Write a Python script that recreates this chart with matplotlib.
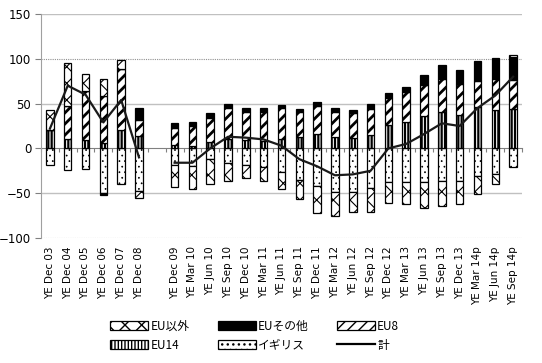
import numpy as np
import matplotlib
matplotlib.use("Agg")
import matplotlib.pyplot as plt
from matplotlib.patches import Patch
from matplotlib.lines import Line2D

plt.rcParams['font.family'] = ['DejaVu Sans', 'Noto Sans CJK JP']

# periods (a blank slot is left after YE Dec 08)
labels_a = ['YE Dec 03', 'YE Dec 04', 'YE Dec 05', 'YE Dec 06', 'YE Dec 07', 'YE Dec 08']
labels_b = ['YE Dec 09', 'YE Mar 10', 'YE Jun 10', 'YE Sep 10', 'YE Dec 10',
            'YE Mar 11', 'YE Jun 11', 'YE Sep 11', 'YE Dec 11', 'YE Mar 12',
            'YE Jun 12', 'YE Sep 12', 'YE Dec 12', 'YE Mar 13', 'YE Jun 13',
            'YE Sep 13', 'YE Dec 13', 'YE Mar 14p', 'YE Jun 14p', 'YE Sep 14p']

uk = [-19, -24, -23, -50, -40, -48,
      -18, -20, -12, -16, -18, -21, -26, -35, -42, -49, -49, -44, -37, -37,
      -37, -36, -36, -31, -29, -21]
eu14 = [20, 10, 9, 6, 21, 14,
        4, 3, 7, 11, 9, 8, 10, 13, 16, 13, 12, 15, 26, 30,
        36, 41, 37, 46, 43, 44]
eu8 = [0, 37, 55, 53, 68, 18,
       19, 22, 27, 34, 32, 33, 35, 28, 31, 28, 27, 29, 30, 33,
       35, 37, 35, 29, 34, 32]
eu_other = [0, 0, 0, -2, 0, 13,
            5, 5, 6, 5, 4, 4, 3, 3, 5, 4, 4, 5, 6, 6,
            11, 15, 15, 23, 24, 26]
non_eu = [23, 48, 19, 19, 10, -7,
          -25, -25, -28, -20, -15, -15, -19, -21, -30, -27, -22, -27, -24, -25,
          -29, -28, -26, -20, -11, 2]
total = [22, 70, 60, 29, 54, -10,
         -16, -16, 0, 13, 12, 10, 3, -12, -20, -30, -29, -25, 0, 5,
         16, 28, 25, 45, 59, 80]

n_a = len(labels_a)
x = np.r_[np.arange(n_a), np.arange(len(labels_b)) + n_a + 1]
n_slots = len(labels_a) + 1 + len(labels_b)

fig = plt.figure(figsize=(5.42, 3.63), dpi=100)
ax = fig.add_axes([41 / 542, 1 - 238 / 363, 481 / 542, 224 / 363])

# stacking order: closest to zero first
series = [
    (uk, dict(facecolor='white', hatch='...'), 'イギリス'),
    (eu14, dict(facecolor='white', hatch='|||||'), 'EU14'),
    (eu8, dict(facecolor='white', hatch='///'), 'EU8'),
    (eu_other, dict(facecolor='black'), 'EUその他'),
    (non_eu, dict(facecolor='white', hatch='xx'), 'EU以外'),
]
hlw = {'イギリス': 0.5, 'EU14': 1.6, 'EU8': 2.0, 'EUその他': 1.0, 'EU以外': 0.8}

pos_base = np.zeros(len(x))
neg_base = np.zeros(len(x))
handles = {}
w = 0.42
for vals, style, name in series:
    v = np.array(vals, dtype=float)
    bottom = np.where(v >= 0, pos_base, neg_base)
    with plt.rc_context({'hatch.linewidth': hlw[name]}):
        ax.bar(x, v, bottom=bottom, width=w, edgecolor='black', linewidth=0.9,
               zorder=3, **style)
        handles[name] = Patch(edgecolor='black', linewidth=0.9, **style)
    pos_base += np.where(v >= 0, v, 0)
    neg_base += np.where(v < 0, v, 0)

# total line, broken at the blank slot
ax.plot(x[:n_a], total[:n_a], color='#1a1a1a', lw=1.6, zorder=4)
ax.plot(x[n_a:], total[n_a:], color='#1a1a1a', lw=1.6, zorder=4)
handles['計'] = Line2D([], [], color='black', lw=1.6)

ax.set_ylim(-100, 150)
ax.set_xlim(-0.5, n_slots - 0.5)
ax.set_yticks([-100, -50, 0, 50, 100, 150])
for yv in (150, 50, -50):
    ax.axhline(yv, color='#c0c0c0', lw=1, zorder=0)
for yv in (100, -100):
    ax.axhline(yv, color='#909090', lw=0.8, ls=(0, (1, 1)), zorder=0)

ax.set_xticks(x)
ax.set_xticklabels(labels_a + labels_b, rotation=90, fontsize=7.5)
ax.tick_params(axis='x', length=0, pad=6)
ax.tick_params(axis='y', length=4, color='#808080', labelsize=8.5, pad=3)
for s in ('top', 'right', 'bottom'):
    ax.spines[s].set_visible(False)
ax.spines['left'].set_color('#a0a0a0')

# category axis crossing at zero
sec = ax.secondary_xaxis(100 / 250)
sec.set_xticks(np.arange(n_slots + 1) - 0.5)
sec.tick_params(axis='x', direction='out', length=3, color='#808080', labelbottom=False,
                labeltop=False)
sec.spines['top'].set_color('#808080')
sec.spines['bottom'].set_color('#808080')

order = ['EU以外', 'EU14', 'EUその他', 'イギリス', 'EU8', '計']
leg = fig.legend([handles[k] for k in order], order, loc='center',
                 bbox_to_anchor=(0.47, 0.075), ncol=3, frameon=False,
                 handlelength=3.2, handleheight=0.8,
                 columnspacing=2.4, labelspacing=0.5, handletextpad=0.2,
                 prop={'family': ['Noto Sans CJK JP', 'DejaVu Sans'], 'size': 8.5})

fig.savefig('out.png', dpi=100)
